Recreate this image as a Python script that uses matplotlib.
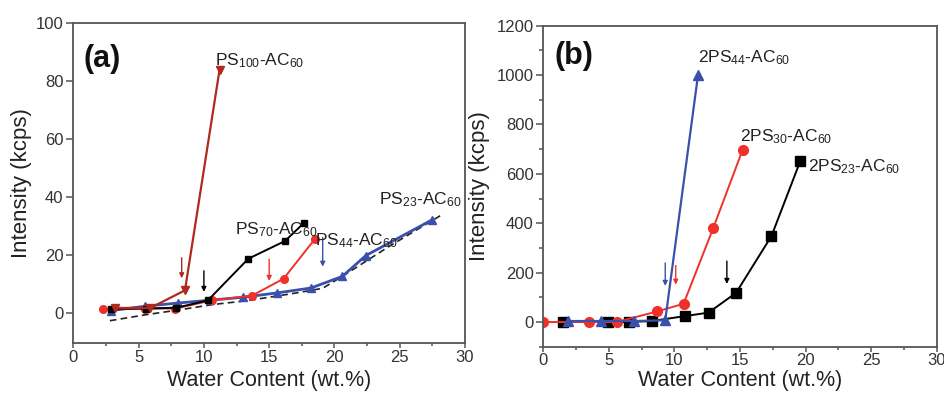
import matplotlib
matplotlib.use("Agg")
import matplotlib.pyplot as plt
from matplotlib.ticker import MultipleLocator

plt.rcParams['font.family'] = ['Liberation Sans', 'DejaVu Sans']
plt.rcParams['mathtext.default'] = 'regular'

# ---------- Panel (a) data ----------
ps100_x = [3.2, 5.9, 8.55, 11.2]
ps100_y = [1.7, 1.7, 7.8, 84]
ps70_x = [2.9, 5.6, 7.9, 10.3, 13.4, 16.2, 17.65]
ps70_y = [1.4, 1.5, 1.8, 4.3, 18.7, 24.8, 31]
ps44_x = [2.25, 5.5, 7.8, 10.6, 13.7, 16.1, 18.5]
ps44_y = [1.2, 1.5, 1.5, 4.3, 6.0, 11.8, 25.5]
ps23_x = [2.9, 5.5, 8.0, 10.5, 13.0, 15.6, 18.2, 20.6, 22.4, 27.5]
ps23_y = [0.8, 2.3, 3.4, 4.4, 5.4, 6.9, 8.6, 12.6, 19.8, 32.2]
fit_x = [2.8, 5.6, 8.2, 10.7, 13.3, 17.1, 19.1, 20.7, 24.2, 28.3]
fit_y = [-2.7, -0.6, 1.1, 2.9, 4.2, 6.9, 8.5, 12.9, 23.0, 34.1]
# arrows: x, y_start, y_end
arrows_a_x = [8.3, 10.0, 15.0, 19.1]
arrows_a_y0 = [20, 15.5, 19.5, 27]
arrows_a_y1 = [11, 6.3, 10.1, 15]

# ---------- Panel (b) data ----------
b44_x = [1.9, 4.4, 6.9, 9.3, 11.8]
b44_y = [4, 4, 4, 7, 1000]
b30_x = [0.0, 3.5, 5.6, 8.7, 10.7, 12.95, 15.2]
b30_y = [0, 0, 0, 43, 74, 379, 697]
b23_x = [1.5, 4.95, 6.5, 8.3, 10.8, 12.6, 14.7, 17.4, 19.6]
b23_y = [0, 0, 0, 4, 24, 38, 118, 348, 652]
arrows_b_x = [9.3, 10.1, 14.0]
arrows_b_y0 = [250, 240, 258]
arrows_b_y1 = [135, 140, 143]

c_dred = '#b0281e'
c_red = '#f0302a'
c_blue = '#3a50ac'
c_black = '#000000'
spine_c = '#555555'
tick_c = '#333333'

fig = plt.figure(figsize=(9.45, 3.94), dpi=100)
axa = fig.add_axes([0.0776, 0.1287, 0.4145, 0.812])
axb = fig.add_axes([0.5749, 0.1200, 0.4163, 0.8148])

for ax in (axa, axb):
    for s in ax.spines.values():
        s.set_color(spine_c)
        s.set_linewidth(1.3)
    ax.tick_params(which='both', direction='out', color=spine_c, labelcolor=tick_c,
                   labelsize=12, top=False, right=False, width=1.1)
    ax.tick_params(axis='x', which='major', length=3.5, pad=1)
    ax.tick_params(axis='x', which='minor', length=2.5)
    ax.tick_params(axis='y', which='major', length=5, pad=2)
    ax.tick_params(axis='y', which='minor', length=3)
    ax.set_xlim(0, 30)
    ax.xaxis.set_major_locator(MultipleLocator(5))
    ax.xaxis.set_minor_locator(MultipleLocator(2.5))
    ax.set_xlabel('Water Content (wt.%)', fontsize=15.5, color='#222222')
    ax.set_ylabel('Intensity (kcps)', fontsize=16, color='#222222')

# ---- panel (a) ----
axa.set_ylim(-10.5, 100)
axa.yaxis.set_major_locator(MultipleLocator(20))
axa.plot(fit_x, fit_y, ls='--', color='#222222', lw=1.2, dashes=(4, 2.5))
axa.plot(ps23_x, ps23_y, color=c_blue, lw=2.0, marker='^', ms=5.5)
axa.plot(ps44_x, ps44_y, color=c_red, lw=1.4, marker='o', ms=5.5)
axa.plot(ps70_x, ps70_y, color=c_black, lw=1.4, marker='s', ms=4.5)
axa.plot(ps100_x, ps100_y, color=c_dred, lw=1.6, marker='v', ms=6)
for x, y0, y1, c in zip(arrows_a_x, arrows_a_y0, arrows_a_y1, [c_dred, c_black, c_red, c_blue]):
    axa.annotate('', xy=(x, y1), xytext=(x, y0),
                 arrowprops=dict(arrowstyle='-|>', color=c, lw=1.0, mutation_scale=7))
tkw = dict(fontsize=12.5, color='#222222')
axa.text(10.85, 85.5, 'PS$_{100}$-AC$_{60}$', **tkw)
axa.text(12.4, 27.0, 'PS$_{70}$-AC$_{60}$', **tkw)
axa.text(18.5, 23.2, 'PS$_{44}$-AC$_{60}$', **tkw)
axa.text(23.4, 37.5, 'PS$_{23}$-AC$_{60}$', **tkw)
axa.text(0.75, 93, '(a)', fontsize=22, fontweight='bold', color='#111111', va='top')

# ---- panel (b) ----
axb.set_ylim(-100, 1200)
axb.yaxis.set_major_locator(MultipleLocator(200))
axb.yaxis.set_minor_locator(MultipleLocator(100))
axb.plot(b23_x, b23_y, color=c_black, lw=1.4, marker='s', ms=6.5)
axb.plot(b30_x, b30_y, color=c_red, lw=1.4, marker='o', ms=7)
axb.plot(b44_x, b44_y, color=c_blue, lw=1.6, marker='^', ms=7.5)
for x, y0, y1, c in zip(arrows_b_x, arrows_b_y0, arrows_b_y1, [c_blue, c_red, c_black]):
    axb.annotate('', xy=(x, y1), xytext=(x, y0),
                 arrowprops=dict(arrowstyle='-|>', color=c, lw=1.0, mutation_scale=7))
axb.text(11.8, 1050, '2PS$_{44}$-AC$_{60}$', **tkw)
axb.text(15.0, 733, '2PS$_{30}$-AC$_{60}$', **tkw)
axb.text(20.2, 612, '2PS$_{23}$-AC$_{60}$', **tkw)
axb.text(0.85, 1140, '(b)', fontsize=22, fontweight='bold', color='#111111', va='top')

axa.yaxis.set_label_coords(-0.105, 0.5)
axb.yaxis.set_label_coords(-0.135, 0.5)
axa.xaxis.set_label_coords(0.5, -0.083)
axb.xaxis.set_label_coords(0.5, -0.073)

fig.savefig('out.png', dpi=100)
